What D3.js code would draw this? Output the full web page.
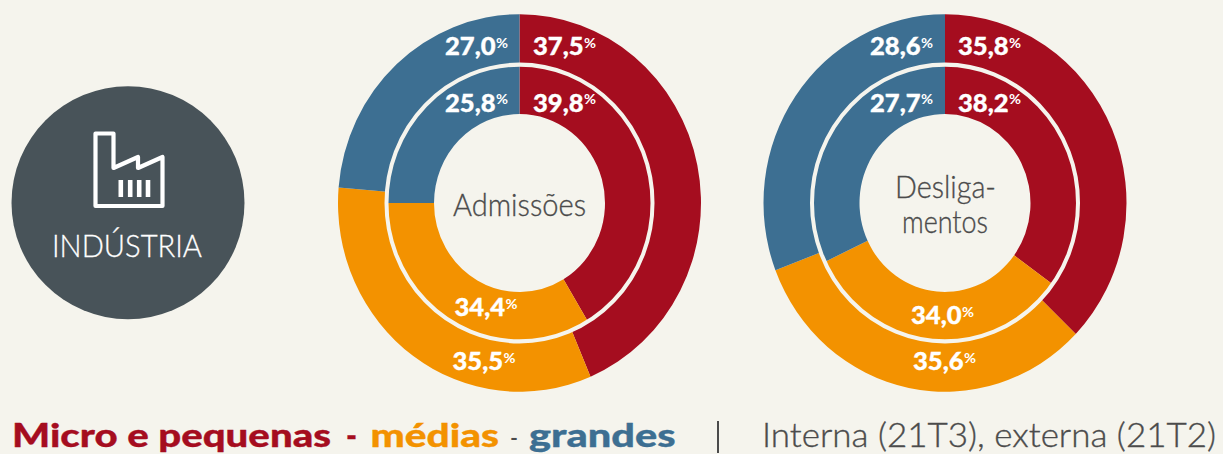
<!DOCTYPE html>
<html>
<head>
<meta charset="utf-8">
<script src="https://cdn.jsdelivr.net/npm/d3@7"></script>
<style>
  html, body { margin: 0; padding: 0; background: #F5F4ED; overflow: hidden; }
  svg { display: block; }
  text { font-family: Lato, "Noto Sans", sans-serif; }
</style>
</head>
<body>
<svg class="chart"></svg>
<script>
var width = 1223;
var height = 454;

// order in every array: micro e pequenas, medias, grandes
var categories = ["Micro e pequenas", "médias", "grandes"];

// printed percentages
var admOuterLabels = [37.5, 35.5, 27.0];
var admInnerLabels = [39.8, 34.4, 25.8];
var desOuterLabels = [35.8, 35.6, 28.6];
var desInnerLabels = [38.2, 34.0, 27.7];

// size of the slices as drawn (they don't follow the printed numbers)
var admOuterShares = [43.6, 32.7, 23.7];
var admInnerShares = [41.4, 33.6, 25.0];
var desOuterShares = [37.2, 32.0, 30.8];
var desInnerShares = [35.0, 33.0, 32.0];

var colors = ["#A50D1F", "#F39200", "#3D6F92"];
var bg = "#F5F4ED";
var grey = "#4B4B4B";

var chart = d3.select(".chart").attr("width", width).attr("height", height);

// rings are a bit taller than wide in the original
var rOuter = 181.5, rMid = 133, rHole = 85.5, yStretch = 1.04;
var centerY = 203;

var pie = d3.pie().sort(null).value(function(d){ return d; });
var outerArc = d3.arc().innerRadius(rMid).outerRadius(rOuter);
var innerArc = d3.arc().innerRadius(rHole).outerRadius(rMid);

function comma(v){ return d3.format(".1f")(v).replace(".", ","); }

function donut(cx, outerShares, innerShares){
  var g = chart.append("g")
      .attr("transform", "translate(" + cx + "," + centerY + ") scale(1," + yStretch + ")");
  g.selectAll(".outer").data(pie(outerShares)).enter().append("path")
      .attr("class", "outer")
      .attr("d", outerArc)
      .attr("fill", function(d, i){ return colors[i]; });
  g.selectAll(".inner").data(pie(innerShares)).enter().append("path")
      .attr("class", "inner")
      .attr("d", innerArc)
      .attr("fill", function(d, i){ return colors[i]; });
  g.append("circle")
      .attr("r", rMid)
      .attr("fill", "none")
      .attr("stroke", bg)
      .attr("stroke-width", 4);
}

// text squeezed to the width it has in the original; extra = stroke to fatten Lato
function fitted(str, x, y, w, size, weight, fill, extra){
  return chart.append("text")
      .attr("x", x).attr("y", y)
      .attr("textLength", w)
      .attr("lengthAdjust", "spacingAndGlyphs")
      .attr("font-size", size)
      .attr("font-weight", weight)
      .attr("fill", fill)
      .attr("stroke", extra ? fill : "none")
      .attr("stroke-width", extra || 0)
      .text(str);
}

// value label: number + small % sign. x,y = left end of the number, baseline
function label(x, y, v){
  fitted(comma(v), x, y, 50.5, 24.5, 900, "#fff", 0.35);
  fitted("%", x + 51, y - 7.5, 12, 13, 700, "#fff");
}

donut(519.5, admOuterShares, admInnerShares);
donut(945, desOuterShares, desInnerShares);

var admOuterPos = [[533, 55], [452.5, 370], [445, 55]];
var admInnerPos = [[533, 111.5], [454.5, 316], [445, 111.5]];
var desOuterPos = [[958, 55], [913, 370], [870, 55]];
var desInnerPos = [[958, 111.5], [911, 324], [870, 111.5]];

admOuterLabels.forEach(function(v, i){ label(admOuterPos[i][0], admOuterPos[i][1], v); });
admInnerLabels.forEach(function(v, i){ label(admInnerPos[i][0], admInnerPos[i][1], v); });
desOuterLabels.forEach(function(v, i){ label(desOuterPos[i][0], desOuterPos[i][1], v); });
desInnerLabels.forEach(function(v, i){ label(desInnerPos[i][0], desInnerPos[i][1], v); });

// donut titles
fitted("Admissões", 453, 216, 133, 32, 300, grey, 0.35);
fitted("Desliga-", 895, 197.5, 101, 32, 300, grey, 0.35);
fitted("mentos", 902, 233, 86, 32, 300, grey, 0.35);

// left badge
chart.append("circle")
    .attr("cx", 128).attr("cy", 202.7).attr("r", 116.5)
    .attr("fill", "#485359");

var factory = d3.path();
factory.moveTo(95.5, 133.5);
factory.lineTo(113.5, 133.5);
factory.lineTo(113.5, 168);
factory.lineTo(138, 157);
factory.lineTo(138, 168);
factory.lineTo(162.5, 157);
factory.lineTo(162.5, 206);
factory.lineTo(95.5, 206);
factory.closePath();
chart.append("path")
    .attr("d", factory.toString())
    .attr("fill", "none")
    .attr("stroke", "#fff")
    .attr("stroke-width", 4.2)
    .attr("stroke-linejoin", "round");

chart.selectAll(".bar")
    .data([120.8, 130.2, 139.2, 148])
  .enter().append("line")
    .attr("class", "bar")
    .attr("x1", function(d){ return d; })
    .attr("x2", function(d){ return d; })
    .attr("y1", 180).attr("y2", 197)
    .attr("stroke", "#fff")
    .attr("stroke-width", 4.6);

fitted("INDÚSTRIA", 52, 256.5, 150, 31, 300, "#fff", 0.3);

// legend line, 33px so the descenders stay inside the frame
fitted(categories[0], 12, 446.5, 319, 33, 900, colors[0], 0.35);
fitted("-", 346, 446.5, 11, 33, 900, colors[0], 0.35);
fitted(categories[1], 370.5, 446.5, 128.5, 33, 900, colors[1], 0.35);
fitted("-", 510, 446.5, 8, 26, 400, grey);
fitted(categories[2], 529, 446.5, 146.5, 33, 900, colors[2], 0.35);

chart.append("line")
    .attr("x1", 718).attr("x2", 718)
    .attr("y1", 421).attr("y2", 453)
    .attr("stroke", grey)
    .attr("stroke-width", 2);

fitted("Interna (21T3), externa (21T2)", 762, 446.5, 454, 33, 300, grey, 0.35);
</script>
</body>
</html>
